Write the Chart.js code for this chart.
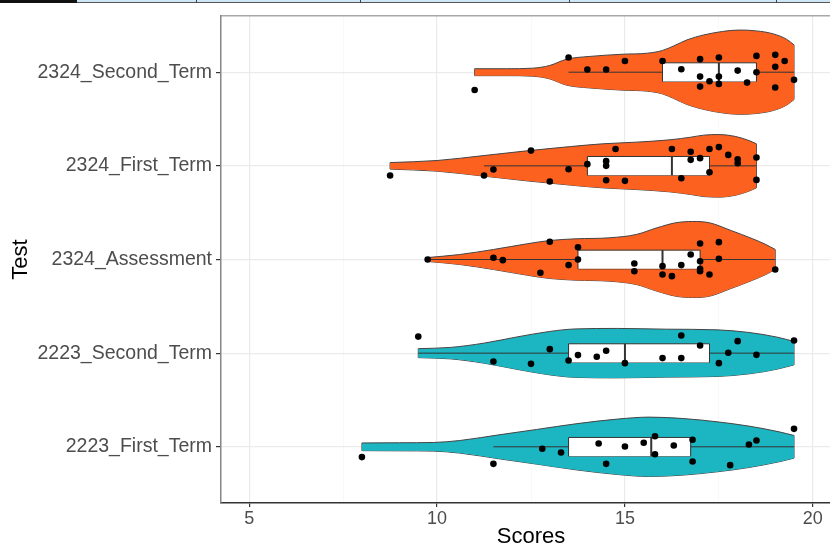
<!DOCTYPE html>
<html>
<head>
<meta charset="utf-8">
<script src="https://cdn.jsdelivr.net/npm/chart.js@4.4.1/dist/chart.umd.min.js"></script>
<style>
  body { margin: 0; background: #fff; overflow: hidden; }
  #wrap { position: relative; width: 830px; height: 546px; overflow: hidden; }
  #chart { position: absolute; left: 0; top: 0; }
  /* bit of the page table that sits above the plot */
  .rule-black { position: absolute; left: 0; top: 0; width: 77px; height: 3px; background: #111; }
  .rule-blue { position: absolute; left: 77px; top: 0; width: 753px; height: 2px; background: #cfe6f6; border-bottom: 1px solid #555; }
  .rule-tick { position: absolute; top: 0; width: 1px; height: 3px; background: #444; }
</style>
</head>
<body>
<div id="wrap">
  <canvas id="chart" width="845" height="546"></canvas>
  <div class="rule-black"></div>
  <div class="rule-blue"></div>
  <div class="rule-tick" style="left:196px"></div>
  <div class="rule-tick" style="left:360px"></div>
  <div class="rule-tick" style="left:569px"></div>
  <div class="rule-tick" style="left:776px"></div>
</div>
<script>
// categories from bottom (0) to top (4)
const categories = ['2223_First_Term', '2223_Second_Term', '2324_Assessment', '2324_First_Term', '2324_Second_Term'];
const groupColors = ['#1cb6c2', '#1cb6c2', '#fd6120', '#fd6120', '#fd6120'];
const xTicks = [5, 7.5, 10, 12.5, 15, 17.5, 20];

// violin outline: score positions and half widths (in category units)
const violinScores = [
  [8.0, 9.0, 9.9, 10.6, 11.7, 12.65, 13.7, 14.8, 15.65, 16.55, 17.45, 18.3, 19.1, 19.5],
  [9.5, 10.35, 11.25, 12.1, 13.0, 13.7, 14.8, 16.1, 17.45, 18.3, 19.05, 19.5],
  [9.75, 10.6, 11.5, 12.4, 13.0, 13.7, 14.6, 15.3, 15.85, 16.35, 16.8, 17.25, 17.8, 18.4, 18.75, 19.0],
  [8.75, 10.0, 11.25, 12.45, 13.55, 14.4, 15.3, 16.2, 16.75, 17.1, 17.5, 17.95, 18.3, 18.5],
  [11.0, 11.85, 12.55, 13.0, 13.45, 14.05, 14.95, 15.6, 16.0, 16.3, 16.65, 17.1, 17.6, 18.05, 18.5, 18.95, 19.3, 19.5]
];
const violinHalfWidths = [
  [0.041, 0.043, 0.046, 0.067, 0.131, 0.185, 0.246, 0.296, 0.317, 0.302, 0.267, 0.221, 0.160, 0.121],
  [0.048, 0.061, 0.107, 0.171, 0.232, 0.259, 0.264, 0.256, 0.249, 0.221, 0.171, 0.125],
  [0.021, 0.053, 0.107, 0.168, 0.203, 0.221, 0.232, 0.267, 0.338, 0.392, 0.406, 0.392, 0.313, 0.221, 0.160, 0.107],
  [0.035, 0.057, 0.110, 0.163, 0.206, 0.235, 0.253, 0.278, 0.306, 0.328, 0.334, 0.313, 0.270, 0.235],
  [0.037, 0.037, 0.043, 0.072, 0.139, 0.168, 0.192, 0.203, 0.232, 0.281, 0.345, 0.398, 0.435, 0.450, 0.441, 0.409, 0.352, 0.292]
];

// boxplot stats
const whiskerLow = [11.5, 9.5, 9.75, 11.25, 13.5];
const boxQ1 = [13.5, 13.5, 13.75, 14.0, 16.0];
const boxMedian = [15.7, 15.0, 16.0, 16.25, 17.5];
const boxQ3 = [16.75, 17.25, 17.0, 17.25, 18.5];
const whiskerHigh = [19.5, 19.5, 19.0, 18.5, 19.5];
const boxHalf = 0.1;

// jittered points: score and vertical offset
const pointScores = [
  [8.0, 11.5, 12.8, 13.3, 14.3, 14.5, 15.0, 15.5, 15.8, 15.8, 16.3, 16.8, 16.8, 17.8, 18.3, 18.5, 19.5],
  [9.5, 11.5, 12.5, 13.0, 13.5, 13.75, 14.25, 14.5, 15.0, 16.0, 16.5, 16.5, 17.0, 17.5, 17.75, 18.0, 18.5, 19.5],
  [9.75, 11.5, 11.75, 12.75, 13.0, 13.5, 13.75, 13.75, 15.25, 15.25, 16.0, 16.0, 16.25, 16.5, 16.75, 17.0, 17.0, 17.0, 17.0, 17.25, 17.5, 17.5, 19.0],
  [8.75, 11.25, 11.5, 12.5, 13.0, 13.5, 14.0, 14.5, 14.5, 14.5, 14.75, 15.0, 16.25, 16.5, 16.75, 16.75, 17.0, 17.25, 17.25, 17.5, 17.75, 18.0, 18.0, 18.5, 18.5],
  [11.0, 13.5, 14.0, 14.5, 15.0, 16.0, 16.5, 17.0, 17.0, 17.25, 17.0, 17.5, 17.5, 17.5, 18.0, 18.25, 18.5, 18.5, 19.0, 19.0, 19.25, 19.0, 19.5]
];
const pointJitter = [
  [-0.11, -0.182, -0.021, -0.061, 0.035, -0.182, 0.003, 0.043, 0.113, -0.079, 0.014, 0.075, -0.157, -0.196, 0.025, 0.067, 0.192],
  [0.177, -0.089, -0.114, 0.043, -0.078, -0.021, -0.039, 0.025, -0.107, -0.053, 0.188, -0.053, 0.081, -0.107, 0.004, 0.128, -0.018, 0.135],
  [0, 0.018, -0.007, -0.142, 0.189, -0.06, 0.131, 0, -0.043, -0.125, -0.071, -0.16, -0.178, -0.06, 0.053, 0.171, -0.018, -0.1, -0.125, -0.16, 0.185, 0.007, -0.107],
  [-0.103, -0.103, -0.039, 0.163, -0.167, -0.036, 0.018, 0.05, 0, -0.153, 0.18, -0.16, 0.18, -0.132, 0.15, 0.064, 0.082, -0.068, 0.18, 0.2, 0.117, 0.071, 0.028, 0.089, -0.15],
  [-0.19, 0.157, 0.028, 0.028, 0.12, 0.12, 0.032, 0.139, -0.047, -0.096, -0.154, 0.157, -0.047, -0.125, 0.017, -0.111, 0.174, 0, 0.185, 0.057, 0.12, -0.164, -0.082]
];

const outline = '#444';
const seg = (data, extra) => Object.assign({
  data: data, showLine: true, pointRadius: 0, borderColor: outline, borderWidth: 1, fill: false
}, extra);

const datasets = [];
categories.forEach((cat, i) => {
  const xs = violinScores[i];
  const ws = violinHalfWidths[i];
  const last = xs.length - 1;
  // violin: upper curve fills down to the lower curve
  datasets.push(seg(xs.map((x, k) => ({ x: x, y: i + ws[k] })), {
    fill: '+1', backgroundColor: groupColors[i], cubicInterpolationMode: 'monotone', order: 50
  }));
  datasets.push(seg(xs.map((x, k) => ({ x: x, y: i - ws[k] })), {
    cubicInterpolationMode: 'monotone', order: 50
  }));
  datasets.push(seg([{ x: xs[0], y: i - ws[0] }, { x: xs[0], y: i + ws[0] }], { order: 50 }));
  datasets.push(seg([{ x: xs[last], y: i - ws[last] }, { x: xs[last], y: i + ws[last] }], { order: 50 }));

  // whisker
  datasets.push(seg([{ x: whiskerLow[i], y: i }, { x: whiskerHigh[i], y: i }], { borderColor: '#333', order: 40 }));

  // box
  datasets.push(seg([{ x: boxQ1[i], y: i + boxHalf }, { x: boxQ3[i], y: i + boxHalf }], {
    fill: '+1', backgroundColor: '#ffffff', borderColor: '#333', order: 30
  }));
  datasets.push(seg([{ x: boxQ1[i], y: i - boxHalf }, { x: boxQ3[i], y: i - boxHalf }], { borderColor: '#333', order: 30 }));
  datasets.push(seg([{ x: boxQ1[i], y: i - boxHalf }, { x: boxQ1[i], y: i + boxHalf }], { borderColor: '#333', order: 20 }));
  datasets.push(seg([{ x: boxQ3[i], y: i - boxHalf }, { x: boxQ3[i], y: i + boxHalf }], { borderColor: '#333', order: 20 }));
  datasets.push(seg([{ x: boxMedian[i], y: i - boxHalf }, { x: boxMedian[i], y: i + boxHalf }], {
    borderColor: '#333', borderWidth: 2, order: 20
  }));

  // points
  datasets.push({
    data: pointScores[i].map((s, k) => ({ x: s, y: i + pointJitter[i][k] })),
    showLine: false, pointRadius: 3.3, pointBackgroundColor: '#000', pointBorderWidth: 0, order: 0
  });
});

const isMajor = v => v % 5 === 0;

new Chart(document.getElementById('chart'), {
  type: 'scatter',
  data: { datasets: datasets },
  options: {
    responsive: false,
    animation: false,
    layout: { padding: { top: 16, right: 4, left: 0, bottom: 0 } },
    plugins: {
      legend: { display: false },
      tooltip: { enabled: false }
    },
    scales: {
      x: {
        type: 'linear',
        min: 4.25,
        max: 20.75,
        afterBuildTicks: s => { s.ticks = xTicks.map(v => ({ value: v })); },
        afterFit: s => { s.height = 43; },
        ticks: {
          callback: v => isMajor(v) ? String(v) : '',
          color: '#4d4d4d',
          font: { family: 'Liberation Sans, Arial, sans-serif', size: 18 },
          padding: 1,
          maxRotation: 0
        },
        grid: {
          color: ctx => isMajor(ctx.tick.value) ? '#ebebeb' : '#f6f6f6',
          lineWidth: ctx => isMajor(ctx.tick.value) ? 1.2 : 0.7,
          tickColor: ctx => isMajor(ctx.tick.value) ? '#333' : 'rgba(0,0,0,0)',
          tickLength: 4
        },
        border: { color: '#333', width: 1.5 },
        title: {
          display: true,
          text: 'Scores',
          color: '#000',
          font: { family: 'Liberation Sans, Arial, sans-serif', size: 22, lineHeight: 1 },
          padding: { top: 0, bottom: -2 }
        }
      },
      xTop: {
        type: 'linear',
        position: 'top',
        min: 4.25,
        max: 20.75,
        afterFit: s => { s.height = 0; },
        ticks: { display: false },
        grid: { display: false, drawTicks: false },
        border: { color: '#a8a8a8', width: 1.5 }
      },
      y: {
        type: 'linear',
        min: -0.6,
        max: 4.6,
        afterBuildTicks: s => { s.ticks = categories.map((c, i) => ({ value: i })); },
        afterFit: s => { s.width = 221; },
        ticks: {
          callback: v => categories[v],
          color: '#4d4d4d',
          font: { family: 'Liberation Sans, Arial, sans-serif', size: 19.5 },
          padding: 4
        },
        grid: {
          color: '#ebebeb',
          lineWidth: 1.2,
          tickColor: '#333',
          tickLength: 5
        },
        border: { color: '#858585', width: 1.5 },
        title: {
          display: true,
          text: 'Test',
          color: '#000',
          font: { family: 'Liberation Sans, Arial, sans-serif', size: 22, lineHeight: 1 },
          padding: { top: 10, bottom: 0 }
        }
      }
    }
  }
});
</script>
</body>
</html>
